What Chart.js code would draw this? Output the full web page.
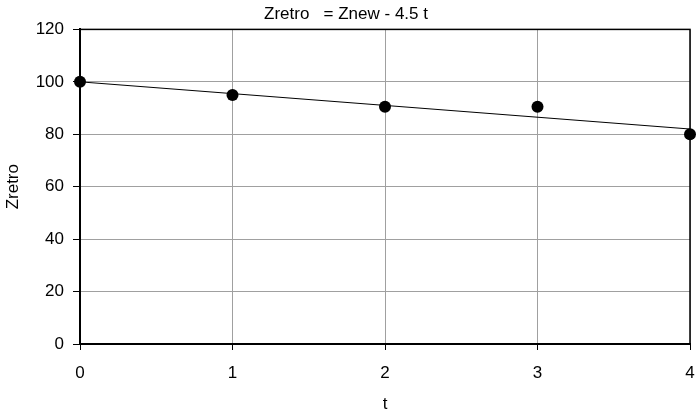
<!DOCTYPE html>
<html>
<head>
<meta charset="utf-8">
<script src="https://cdn.jsdelivr.net/npm/chart.js@4/dist/chart.umd.min.js"></script>
<style>
  html, body { margin: 0; padding: 0; background: #fff; }
  canvas { display: block; }
</style>
</head>
<body>
<canvas id="chart" width="696" height="413"></canvas>
<script>
// Observed values
const tValues = [0, 1, 2, 3, 4];
const zRetro = [100, 95, 90.5, 90.5, 80];

// Fitted relation: Zretro = Znew - 4.5 t, with Znew = 100
const zNew = 100;
const slope = 4.5;
const fitT = [0, 4];

const chartTitle = 'Zretro   = Znew - 4.5 t';
const xTitle = 't';
const yTitle = 'Zretro';

const observed = tValues.map((t, i) => ({ x: t, y: zRetro[i] }));
const fitLine = fitT.map(t => ({ x: t, y: zNew - slope * t }));

const FONT = '"Liberation Sans", Arial, sans-serif';

// Thin black frame around the plotting area
const frame = {
  id: 'frame',
  afterDatasetsDraw(chart) {
    const { ctx, chartArea: a } = chart;
    ctx.save();
    ctx.strokeStyle = '#000';
    ctx.lineWidth = 1.5;
    ctx.strokeRect(a.left, a.top, a.right - a.left, a.bottom - a.top);
    ctx.restore();
  }
};

new Chart(document.getElementById('chart'), {
  type: 'scatter',
  data: {
    datasets: [
      {
        label: 'Zretro',
        data: observed,
        order: 0,
        showLine: false,
        pointRadius: 6,
        pointHoverRadius: 6,
        pointBackgroundColor: '#000',
        pointBorderColor: '#000',
        pointBorderWidth: 0,
        clip: false
      },
      {
        label: 'fit',
        data: fitLine,
        order: 1,
        showLine: true,
        borderColor: '#000',
        borderWidth: 1,
        pointRadius: 0,
        fill: false,
        clip: false
      }
    ]
  },
  plugins: [frame],
  options: {
    responsive: false,
    animation: false,
    layout: { padding: { left: 0, right: 4, top: 0, bottom: 0 } },
    plugins: {
      legend: { display: false },
      tooltip: { enabled: false },
      title: {
        display: true,
        text: chartTitle,
        color: '#000',
        font: { family: FONT, size: 17, weight: 'normal', lineHeight: 1.2 },
        padding: { top: 4, bottom: 5 }
      }
    },
    scales: {
      x: {
        type: 'linear',
        min: 0,
        max: 4,
        afterFit(scale) {
          scale.height = 69;
          // let the end labels run to the canvas edge
          scale.paddingLeft = 0;
          scale.paddingRight = 0;
        },
        ticks: {
          stepSize: 1,
          color: '#000',
          padding: 13,
          font: { family: FONT, size: 17 }
        },
        grid: {
          color: '#a0a0a0',
          lineWidth: 1,
          tickColor: '#000',
          tickLength: 6
        },
        border: { color: '#000', width: 2 },
        title: {
          display: true,
          text: xTitle,
          color: '#000',
          font: { family: FONT, size: 17, lineHeight: 1 },
          padding: 0
        }
      },
      y: {
        type: 'linear',
        min: 0,
        max: 120,
        afterFit(scale) {
          scale.width = 80;
          scale.paddingTop = 0;
          scale.paddingBottom = 0;
        },
        ticks: {
          stepSize: 20,
          color: '#000',
          padding: 9,
          font: { family: FONT, size: 17 }
        },
        grid: {
          color: '#a0a0a0',
          lineWidth: 1,
          tickColor: '#000',
          tickLength: 7
        },
        border: { color: '#000', width: 2 },
        title: {
          display: true,
          text: yTitle,
          color: '#000',
          font: { family: FONT, size: 17, lineHeight: 1 },
          padding: { top: 4.5, bottom: 0 }
        }
      }
    }
  }
});
</script>
</body>
</html>
